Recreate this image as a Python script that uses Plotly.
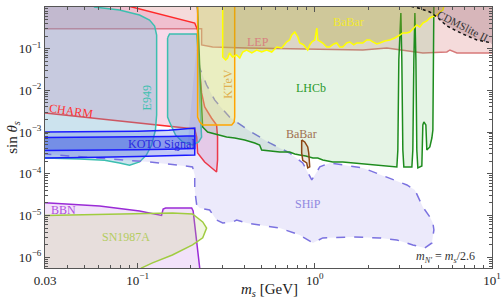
import math
import plotly.graph_objects as go

# ---------------- data (x = m_s [GeV], y = sin theta_s) ----------------
LEP_M = [0.025, 0.2296, 0.2296, 0.265, 0.412, 0.791, 1.213, 1.866, 2.549, 3.139, 4.071, 5.565, 5.79, 6.34, 9.75, 12, 12, 0.025]
LEP_S = [0.30, 0.30, 0.123, 0.110, 0.104, 0.0985, 0.0985, 0.0931, 0.104, 0.0931, 0.0787, 0.0833, 0.0931, 0.0787, 0.0787, 0.0787, 1.3, 1.3]

CHARM_M = [0.029, 0.21, 0.2155, 0.218, 0.239, 0.261, 0.279, 0.2825, 0.2825, 0.279, 0.261, 0.239, 0.2296, 0.221, 0.218, 0.21, 0.1, 0.085, 0.025, 0.025]
CHARM_S = [2.9e-3, 1.19e-3, 7.6e-4, 3.15e-4, 1.92e-4, 1.38e-4, 1.10e-4, 2.14e-4, 7.6e-4, 1.48e-3, 2.18e-3, 4.0e-3, 8.7e-3, 0.0536, 0.28, 0.413, 0.895, 1.1, 1.3, 2.9e-3]

E949A_M = [0.055, 0.0571, 0.079, 0.1025, 0.1167, 0.1247, 0.128, 0.128, 0.126, 0.12, 0.112, 0.1025, 0.09, 0.079, 0.065, 0.047, 0.029, 0.025, 0.025]
E949A_S = [1.3, 1.0, 0.847, 0.643, 0.488, 0.35, 0.213, 2.57e-3, 1.12e-3, 4.9e-4, 2.8e-4, 1.92e-4, 1.6e-4, 1.82e-4, 2.1e-4, 2.26e-4, 2.4e-4, 2.4e-4, 1.3]
E949B_M = [0.1476, 0.1514, 0.2155, 0.221, 0.224, 0.227, 0.2296, 0.221, 0.204, 0.1794, 0.1637, 0.1514, 0.1476, 0.1476]
E949B_S = [0.181, 0.225, 0.225, 0.0536, 5.9e-3, 1.48e-3, 7.6e-4, 5.8e-4, 4.9e-4, 5.8e-4, 8.5e-4, 1.75e-3, 2.3e-3, 0.181]

SHIP_M = [0.029, 0.061, 0.1167, 0.184, 0.204, 0.21, 0.21, 0.2155, 0.224, 0.255, 0.2685, 0.279, 0.302, 0.3435, 0.362, 0.412, 0.488, 0.634, 0.822, 0.975, 1.109, 1.637, 2.326, 2.904, 3.574, 4.18, 4.58, 4.70, 4.64, 4.46, 4.07, 3.67, 3.31, 2.65, 1.866, 1.574, 1.214, 1.067, 0.961, 0.855, 0.721, 0.556, 0.4285, 0.330, 0.272, 0.245, 0.224, 0.218]
SHIP_S = [3.0e-4, 2.39e-4, 1.92e-4, 1.54e-4, 1.46e-4, 9.4e-5, 4.09e-5, 1.79e-5, 1.51e-5, 1.35e-5, 9.7e-6, 7.8e-6, 6.6e-6, 6.98e-6, 7.8e-6, 6.6e-6, 5.9e-6, 5.0e-6, 3.4e-6, 2.19e-6, 2.89e-6, 3.05e-6, 2.89e-6, 2.58e-6, 1.96e-6, 1.66e-6, 2.19e-6, 4.5e-6, 6.6e-6, 9.2e-6, 1.6e-5, 4.09e-5, 5.4e-5, 7.9e-5, 1.38e-4, 1.54e-4, 1.82e-4, 1.46e-4, 7.1e-5, 1.82e-4, 3.15e-4, 5.5e-4, 1.06e-3, 2.3e-3, 5.9e-3, 0.01346, 0.0345, 0.093]
SHIP_HIDDEN_M = [0.2155, 0.19, 0.029]
SHIP_HIDDEN_S = [0.12, 3.6e-4, 3.6e-4]

LHCB_M = [0.2155, 0.218, 0.224, 0.2296, 0.2327, 0.2483, 0.2904, 0.3178, 0.353, 0.402, 0.458, 0.488, 0.501, 0.556, 0.634, 0.721, 0.771, 0.822, 0.889, 0.975, 1.039, 1.109, 1.262, 1.438, 1.637, 1.866, 2.124, 2.483, 2.904, 2.942, 2.98, 3.059, 3.098, 3.139, 3.18, 3.53, 3.574, 3.622, 3.671, 3.72, 3.764, 3.815, 4.018, 4.071, 4.125, 4.234, 4.287, 4.458, 4.577, 4.638, 4.699, 4.699]
LHCB_S = [1.3, 0.847, 0.0364, 3.39e-3, 1.33e-3, 1.0e-3, 8.5e-4, 7.6e-4, 7.22e-4, 6.47e-4, 5.48e-4, 4.91e-4, 3.72e-4, 3.52e-4, 3.33e-4, 3.33e-4, 2.98e-4, 2.83e-4, 2.67e-4, 2.39e-4, 2.39e-4, 2.14e-4, 1.92e-4, 1.92e-4, 1.82e-4, 1.72e-4, 1.63e-4, 1.54e-4, 1.46e-4, 3.72e-4, 0.0536, 0.718, 0.0536, 3.72e-4, 1.46e-4, 1.46e-4, 3.72e-4, 0.0536, 0.718, 0.0536, 3.72e-4, 1.38e-4, 1.54e-4, 1.48e-3, 1.75e-3, 1.48e-3, 3.72e-4, 4.39e-4, 7.2e-4, 1.12e-3, 0.9, 1.3]

KTEV_M = [0.218, 0.218, 0.224, 0.2327, 0.3396, 0.3506, 0.353, 0.353]
KTEV_S = [1.3, 2.3e-3, 1.75e-3, 1.48e-3, 1.48e-3, 1.75e-3, 2.3e-3, 1.3]

BABAR_M = [0.302, 0.302, 0.314, 0.322, 0.330, 0.343, 0.362, 0.377, 0.392, 0.412, 0.441, 0.470, 0.501, 0.535, 0.571, 0.610, 0.650, 0.693, 0.721, 0.741, 0.771, 0.802, 0.822, 0.865, 0.912, 0.936, 0.961, 1.000, 1.026, 1.040, 1.109, 1.167, 1.213, 1.279, 1.330, 1.383, 1.438, 1.514, 1.574, 1.660, 1.725, 1.866, 1.963, 2.042, 2.124, 2.238, 2.326, 2.483, 2.649, 2.829, 3.019, 3.139, 3.306, 3.437, 3.574, 3.764, 3.915, 4.071, 4.287, 4.458, 4.699, 4.887, 5.082, 5.284, 5.42]
BABAR_S = [1.3, 0.0632, 0.0536, 0.0598, 0.0789, 0.0632, 0.0706, 0.0598, 0.0833, 0.0931, 0.0789, 0.0931, 0.0833, 0.0931, 0.0833, 0.110, 0.104, 0.145, 0.162, 0.213, 0.251, 0.191, 0.137, 0.123, 0.0931, 0.123, 0.145, 0.162, 0.313, 0.162, 0.137, 0.110, 0.110, 0.130, 0.137, 0.110, 0.110, 0.137, 0.145, 0.123, 0.137, 0.137, 0.162, 0.162, 0.145, 0.130, 0.137, 0.153, 0.162, 0.181, 0.213, 0.238, 0.238, 0.251, 0.297, 0.370, 0.331, 0.413, 0.462, 0.545, 0.608, 0.643, 0.759, 0.847, 1.3]

BABAR2_M = [0.843, 0.877, 0.912, 0.924, 0.936, 0.912, 0.900, 0.855, 0.843, 0.843]
BABAR2_S = [6.47e-4, 5.79e-4, 4.4e-4, 3.15e-4, 1.46e-4, 1.38e-4, 1.82e-4, 2.1e-4, 3.15e-4, 6.47e-4]

CDMS_M = [3.3, 3.53, 3.915, 4.458, 4.887, 5.565, 6.85, 8.22, 10.0, 12, 12]
CDMS_S = [1.3, 1.03, 0.92, 0.76, 0.575, 0.35, 0.225, 0.162, 0.137, 0.13, 1.3]

KOTO_OUT_M = [0.029, 0.06, 0.1, 0.15, 0.19, 0.205, 0.21, 0.21, 0.15, 0.1, 0.06, 0.029]
KOTO_OUT_S = [1.0e-3, 1.02e-3, 1.05e-3, 1.1e-3, 1.17e-3, 1.23e-3, 1.25e-3, 2.83e-4, 2.7e-4, 2.6e-4, 2.48e-4, 2.39e-4]
KOTO_IN_M = [0.029, 0.06, 0.1, 0.15, 0.19, 0.21, 0.21, 0.19, 0.15, 0.1, 0.06, 0.029]
KOTO_IN_S = [7.4e-4, 7.5e-4, 7.7e-4, 7.85e-4, 8.0e-4, 8.05e-4, 4.04e-4, 3.95e-4, 3.85e-4, 3.75e-4, 3.68e-4, 3.62e-4]

BBN_M = [0.025, 0.061, 0.1025, 0.1364, 0.1393, 0.1439, 0.2018, 0.2057, 0.226, 0.025]
BBN_S = [2.1e-5, 1.69e-5, 1.28e-5, 1.0e-5, 1.43e-5, 1.51e-5, 1.51e-5, 1.28e-5, 4e-7, 4e-7]

SN_M = [0.025, 0.0667, 0.157, 0.204, 0.233, 0.245, 0.233, 0.204, 0.157, 0.1213, 0.105, 0.1, 0.025]
SN_S = [9.8e-6, 1.09e-5, 1.15e-5, 1.09e-5, 7.0e-6, 5.0e-6, 2.9e-6, 1.96e-6, 1.13e-6, 7.3e-7, 5.5e-7, 4e-7, 4e-7]

LABEL_TEXT = ["LEP", "CHARM", "E949", "KTeV", "BaBar", "LHCb", "BaBar", "SHiP", "BBN", "SN1987A",
              "KOTO Signal", "CDMSlite II", "<i>m<sub>N'</sub></i> = <i>m<sub>s</sub></i>/2.6"]
LABEL_M = [0.476, 0.0418, 0.1122, 0.322, 1.555, 0.948, 0.843, 0.912, 0.0382, 0.0855, 0.1365, 6.85, 5.49]
LABEL_S = [0.145, 3.2e-3, 6.6e-3, 0.0142, 0.437, 0.0114, 9.0e-4, 1.89e-5, 1.35e-5, 3.05e-6, 5.18e-4, 0.35, 1.01e-6]
LABEL_COLOR = ["#d88080", "#ff3030", "#40c0b0", "#e0b050", "#f2e830", "#2a9a2a", "#a07050", "#9088e0",
               "#b050e0", "#b4cc60", "#2a2ae0", "#333333", "#333333"]
LABEL_ANGLE = [0, 8, -90, -90, 0, 0, 0, 0, 0, 0, 0, 27, 0]
LABEL_SIZE = [12, 12, 12, 12, 12, 12, 12, 12, 12, 12, 12, 11, 12]

X_TICKS = [0.03, 0.1, 1, 10]
X_TICKTEXT = ["0.03", "10<sup>−1</sup>", "10<sup>0</sup>", "10<sup>1</sup>"]
Y_TICKS = [1e-6, 1e-5, 1e-4, 1e-3, 1e-2, 1e-1, 1]
Y_TICKTEXT = ["10<sup>−6</sup>", "10<sup>−5</sup>", "10<sup>−4</sup>", "10<sup>−3</sup>",
              "10<sup>−2</sup>", "10<sup>−1</sup>", "10<sup>0</sup>"]
X_TITLE = "<i>m<sub>s</sub></i> [GeV]"
Y_TITLE = "sin <i>θ<sub>s</sub></i>"

FONT = "Liberation Serif"

fig = go.Figure()


def region(ms, ss, fill, line, width=1.5, dash="solid"):
    fig.add_trace(go.Scatter(x=ms, y=ss, mode="lines", fill="toself", fillcolor=fill,
                             line=dict(color=line, width=width, dash=dash),
                             hoverinfo="skip", showlegend=False))


region(LEP_M, LEP_S, "rgba(210,90,90,0.22)", "#d77a7a")
region(CHARM_M, CHARM_S, "rgba(225,120,175,0.28)", "#ff2a2a")
region(E949A_M, E949A_S, "rgba(110,175,205,0.35)", "#3cbfb0")
region(E949B_M, E949B_S, "rgba(110,175,205,0.35)", "#3cbfb0")
fig.add_trace(go.Scatter(x=SHIP_M + SHIP_HIDDEN_M, y=SHIP_S + SHIP_HIDDEN_S, mode="lines",
                         fill="toself", fillcolor="rgba(140,130,230,0.17)", line=dict(width=0),
                         hoverinfo="skip", showlegend=False))
fig.add_trace(go.Scatter(x=SHIP_M, y=SHIP_S, mode="lines",
                         line=dict(color="#7b72e0", width=1.5, dash="dash"),
                         hoverinfo="skip", showlegend=False))
region(LHCB_M, LHCB_S, "rgba(100,190,100,0.17)", "#1e8c1e")
region(KTEV_M, KTEV_S, "rgba(245,225,110,0.3)", "#ffa500")
region(BABAR_M, BABAR_S, "rgba(175,165,40,0.28)", "#ffff00")
region(BABAR2_M, BABAR2_S, "rgba(150,80,30,0.12)", "#8b4513")
region(CDMS_M, CDMS_S, "rgba(110,50,70,0.22)", "#111111", dash="dot")
region(KOTO_OUT_M, KOTO_OUT_S, "rgba(70,100,230,0.25)", "#1a1aff")
region(KOTO_IN_M, KOTO_IN_S, "rgba(50,80,225,0.45)", "#1a1aff")
region(BBN_M, BBN_S, "rgba(190,110,225,0.2)", "#9a2bd6")
region(SN_M, SN_S, "rgba(190,210,120,0.22)", "#a0cc40")

for t, m, s, c, a, fs in zip(LABEL_TEXT, LABEL_M, LABEL_S, LABEL_COLOR, LABEL_ANGLE, LABEL_SIZE):
    fig.add_annotation(x=math.log10(m), y=math.log10(s), xref="x", yref="y", text=t,
                       showarrow=False, textangle=a, font=dict(family=FONT, size=fs, color=c))

# axis titles
fig.add_annotation(x=0.503, y=-0.084, xref="paper", yref="paper", text=X_TITLE, showarrow=False,
                   xanchor="center", yanchor="middle", font=dict(family=FONT, size=15, color="#222"))
fig.add_annotation(x=-0.072, y=0.502, xref="paper", yref="paper", text=Y_TITLE, showarrow=False,
                   textangle=-90, xanchor="center", yanchor="middle",
                   font=dict(family=FONT, size=15, color="#222"))


def minor_vals(lo, hi):
    out = []
    for k in range(lo, hi):
        for d in range(2, 10):
            out.append(d * 10.0 ** k)
    return out


axis_common = dict(type="log", showline=True, linecolor="#555", linewidth=1, mirror="ticks",
                   ticks="inside", ticklen=5, tickwidth=1, tickcolor="#555", showgrid=False,
                   zeroline=False, automargin=False,
                   tickfont=dict(family=FONT, size=13, color="#222"))

fig.update_xaxes(range=[math.log10(0.03), 1], tickmode="array", tickvals=X_TICKS, ticktext=X_TICKTEXT,
                 minor=dict(ticks="inside", ticklen=3, tickcolor="#555", tickmode="array",
                            tickvals=[v for v in minor_vals(-2, 1) if v > 0.03]),
                 **axis_common)
fig.update_yaxes(range=[-6.26, 0], tickmode="array", tickvals=Y_TICKS, ticktext=Y_TICKTEXT,
                 minor=dict(ticks="inside", ticklen=3, tickcolor="#555", tickmode="array",
                            tickvals=minor_vals(-7, 0)),
                 **axis_common)

fig.update_layout(width=504, height=304, margin=dict(l=45, r=12, t=7, b=36),
                  plot_bgcolor="white", paper_bgcolor="white", showlegend=False)

fig.write_html("out.html", config={"displayModeBar": False},
               post_script="document.body.style.margin='0px';")
